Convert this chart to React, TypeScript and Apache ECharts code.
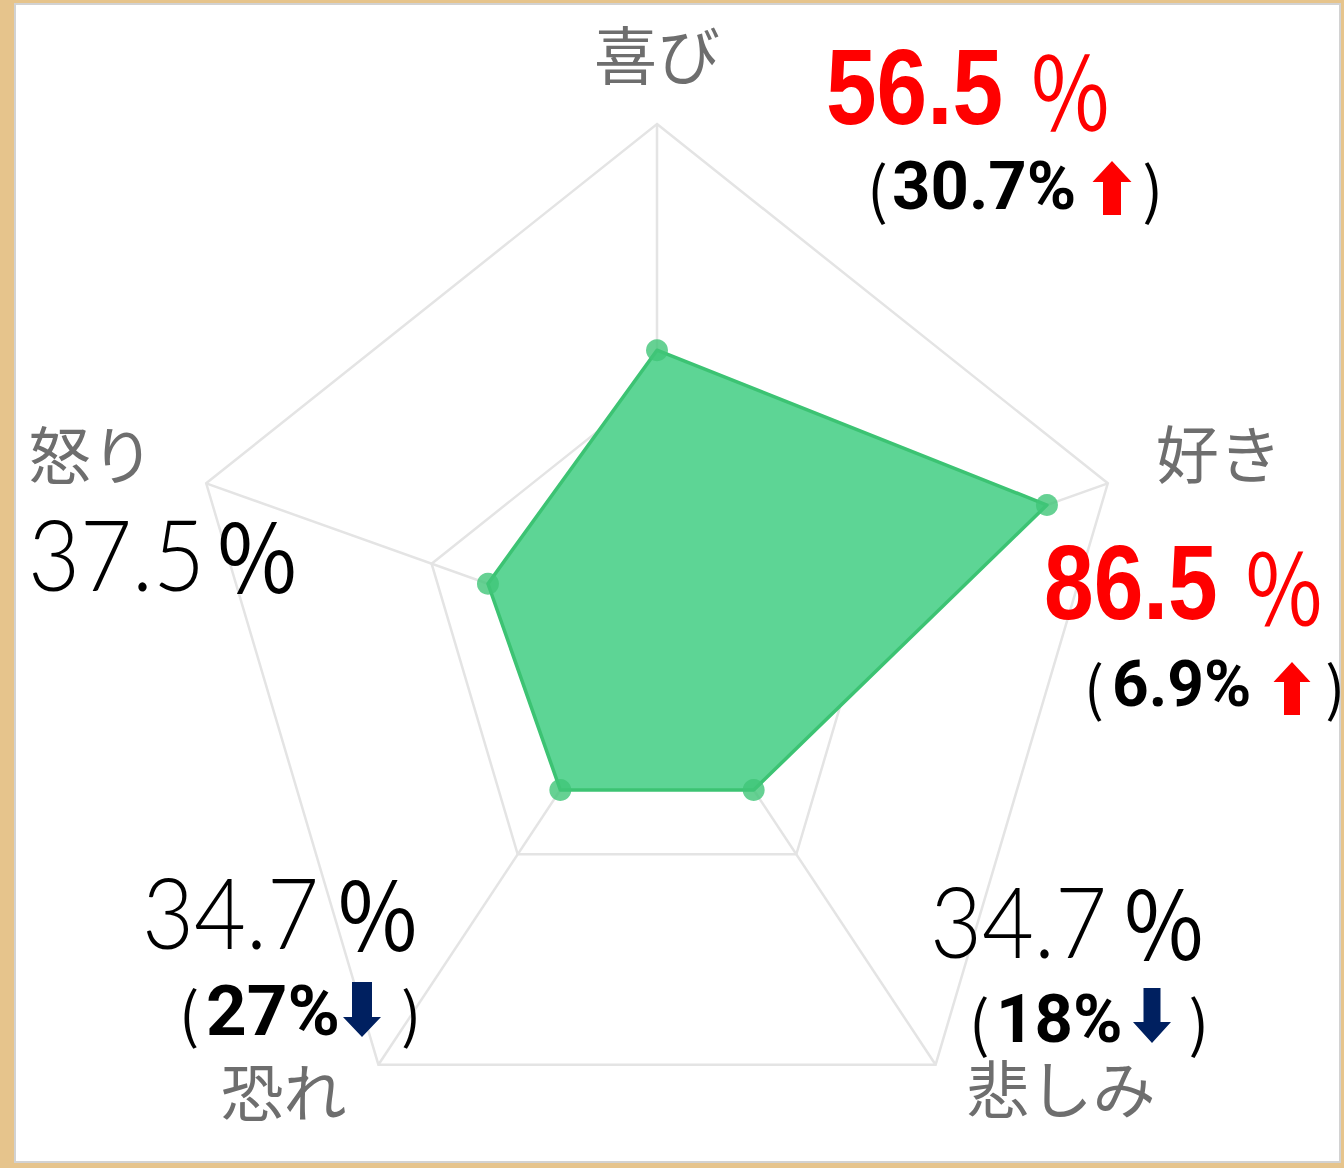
import React, { useEffect, useRef } from 'react';
import * as echarts from 'echarts';

// ---------- data ----------
const indicators = ['喜び', '好き', '悲しみ', '恐れ', '怒り'];
const values = [56.5, 86.5, 34.7, 34.7, 37.5];
const maxValue = 100;
const splitLevels = [50, 100];
const changeLabels = ['30.7%', '6.9%', '18%', '27%', ''];
const changeDirections = ['up', 'up', 'down', 'down', ''];
const highlighted = [true, true, false, false, false];

// ---------- layout (pixels) ----------
const GRID = { left: 183, top: 124, width: 948, height: 1040 };
const nameOffsets = [
  { dx: 0, dy: -73, align: 'center' },
  { dx: 48, dy: -33, align: 'left' },
  { dx: 31, dy: 21, align: 'left' },
  { dx: -32, dy: 24, align: 'right' },
  { dx: -52, dy: -32, align: 'right' },
];
const mainLayout = [
  { x: 826, y: 87, dSize: 107, pSize: 100, pPad: 29, sx: 0.85 },
  { x: 1044, y: 583, dSize: 105, pSize: 98, pPad: 29, sx: 0.85 },
  { x: 930, y: 920, dSize: 98, pSize: 94, pPad: 15, sx: 0.915 },
  { x: 142, y: 911, dSize: 98, pSize: 94, pPad: 17, sx: 0.915 },
  { x: 28, y: 553, dSize: 98, pSize: 94, pPad: 10, sx: 0.915 },
];
const subLayout = [
  { x: 867, y: 186, parenSize: 62, openW: 25, dSize: 67, gap: 66 },
  { x: 1084, y: 684, parenSize: 59, openW: 28, dSize: 64, gap: 74 },
  { x: 969, y: 1019, parenSize: 61, openW: 27, dSize: 67, gap: 66 },
  { x: 179, y: 1010, parenSize: 60, openW: 27, dSize: 71, gap: 61 },
  null,
];
const arrowLayout = [
  { cx: 1112, top: 161, bottom: 215, headH: 21, headHalf: 19.5, shaftHalf: 9 },
  { cx: 1292, top: 662, bottom: 715, headH: 20, headHalf: 18.5, shaftHalf: 8 },
  { cx: 1152, top: 988, bottom: 1043, headH: 21, headHalf: 19, shaftHalf: 8.5 },
  { cx: 362, top: 982, bottom: 1037, headH: 20, headHalf: 19, shaftHalf: 10 },
  null,
];

const RED = '#ff0000';
const NAVY = '#002060';
const CJK = "'Noto Sans CJK JP', sans-serif";
const BOLDNUM = "'Liberation Sans', Arial, sans-serif";
const LIGHTNUM = "Lato, 'Liberation Sans', sans-serif";
const BOLDSANS = "Roboto, 'Liberation Sans', Arial, sans-serif";

const angleOf = (i: number) => (Math.PI * 2 * i) / indicators.length;
const toXY = (ratio: number, i: number) => [ratio * Math.sin(angleOf(i)), ratio * Math.cos(angleOf(i))];

function arrowPoints(a: any, dir: string) {
  const { cx, top, bottom, headH, headHalf, shaftHalf } = a;
  if (dir === 'up') {
    const hb = top + headH;
    return [
      [cx, top], [cx + headHalf, hb], [cx + shaftHalf, hb], [cx + shaftHalf, bottom],
      [cx - shaftHalf, bottom], [cx - shaftHalf, hb], [cx - headHalf, hb],
    ];
  }
  const hb = bottom - headH;
  return [
    [cx - shaftHalf, top], [cx + shaftHalf, top], [cx + shaftHalf, hb], [cx + headHalf, hb],
    [cx, bottom], [cx - headHalf, hb], [cx - shaftHalf, hb],
  ];
}

export default function App() {
  const ref = useRef<HTMLDivElement>(null);

  useEffect(() => {
    document.body.style.margin = '0';
    const chart = echarts.init(ref.current!, null, { renderer: 'svg' });

    const graphics: any[] = [
      {
        type: 'rect',
        z: 0,
        shape: { x: 15, y: 4, width: 1325, height: 1158 },
        style: { fill: '#ffffff', stroke: '#d2d2d2', lineWidth: 2 },
      },
    ];

    indicators.forEach((_, i) => {
      const m = mainLayout[i];
      const hl = highlighted[i];
      const color = hl ? RED : '#000000';
      graphics.push({
        type: 'text',
        z: 20,
        x: m.x,
        y: m.y,
        scaleX: m.sx,
        style: {
          text: `{d|${values[i].toFixed(1)}}{p|％}`,
          align: 'left',
          verticalAlign: 'middle',
          textAlign: 'left',
          textVerticalAlign: 'middle',
          rich: {
            d: {
              fontFamily: hl ? BOLDNUM : LIGHTNUM,
              fontSize: m.dSize,
              fontWeight: hl ? 'bold' : 300,
              fill: color,
              color,
            },
            p: {
              fontFamily: CJK,
              fontSize: m.pSize,
              fontWeight: 'normal',
              fill: color,
              color,
              padding: [0, 0, 0, m.pPad],
            },
          },
        },
      });
      const s = subLayout[i];
      if (s && changeLabels[i]) {
        graphics.push({
          type: 'text',
          z: 20,
          x: s.x,
          y: s.y,
          style: {
            text: `{p|(}{d|${changeLabels[i]}}{g| }{q|)}`,
            align: 'left',
            verticalAlign: 'middle',
            textAlign: 'left',
            textVerticalAlign: 'middle',
            rich: {
              p: { fontFamily: CJK, fontSize: s.parenSize, fill: '#000', color: '#000', width: s.openW },
              q: { fontFamily: CJK, fontSize: s.parenSize, fill: '#000', color: '#000' },
              d: { fontFamily: BOLDSANS, fontSize: s.dSize, fontWeight: 'bold', fill: '#000', color: '#000' },
              g: { fontSize: 10, width: s.gap },
            },
          },
        });
        const a = arrowLayout[i];
        graphics.push({
          type: 'polygon',
          z: 20,
          shape: { points: arrowPoints(a, changeDirections[i]) },
          style: { fill: changeDirections[i] === 'up' ? RED : NAVY },
        });
      }
    });

    const option: any = {
      animation: false,
      backgroundColor: '#e6c48c',
      grid: { ...GRID, containLabel: false },
      xAxis: { type: 'value', min: -1, max: 1, show: false },
      yAxis: { type: 'value', min: -1, max: 1, show: false },
      graphic: { elements: graphics },
      series: [
        {
          name: 'grid',
          type: 'custom',
          silent: true,
          z: 1,
          data: splitLevels.map((l) => [0, 0, l]),
          renderItem: (params: any, api: any) => {
            const level = api.value(2);
            const pts = indicators.map((_, i) => api.coord(toXY(level / maxValue, i)));
            return {
              type: 'polygon',
              shape: { points: pts },
              style: { fill: 'none', stroke: '#e4e4e4', lineWidth: 2.5 },
            };
          },
        },
        {
          name: 'spokes',
          type: 'custom',
          silent: true,
          z: 1,
          data: indicators.map((_, i) => [0, 0, i]),
          renderItem: (params: any, api: any) => {
            const i = api.value(2);
            const c = api.coord([0, 0]);
            const e = api.coord(toXY(1, i));
            return {
              type: 'line',
              shape: { x1: c[0], y1: c[1], x2: e[0], y2: e[1] },
              style: { stroke: '#e4e4e4', lineWidth: 2.5 },
            };
          },
        },
        {
          name: 'area',
          type: 'custom',
          silent: true,
          z: 3,
          data: [values],
          renderItem: (params: any, api: any) => {
            const pts = indicators.map((_, i) => api.coord(toXY(api.value(i) / maxValue, i)));
            return {
              type: 'polygon',
              shape: { points: pts },
              style: { fill: '#5dd595', stroke: '#3cc373', lineWidth: 3.5, lineJoin: 'round' },
            };
          },
        },
        {
          name: 'points',
          type: 'scatter',
          z: 4,
          symbol: 'circle',
          symbolSize: 22,
          itemStyle: { color: '#40c578' },
          data: values.map((v, i) => toXY(v / maxValue, i)),
        },
        {
          name: 'names',
          type: 'custom',
          silent: true,
          z: 5,
          data: indicators.map((_, i) => [...toXY(1, i), i]),
          renderItem: (params: any, api: any) => {
            const i = api.value(2);
            const p = api.coord([api.value(0), api.value(1)]);
            const o = nameOffsets[i];
            return {
              type: 'text',
              x: p[0] + o.dx,
              y: p[1] + o.dy,
              style: {
                text: indicators[i],
                fill: '#6e6e6e',
                fontSize: 63,
                fontFamily: CJK,
                align: o.align,
                verticalAlign: 'middle',
              },
            };
          },
        },
      ],
    };

    chart.setOption(option);
    return () => chart.dispose();
  }, []);

  return <div ref={ref} style={{ width: 1344, height: 1168 }} />;
}
